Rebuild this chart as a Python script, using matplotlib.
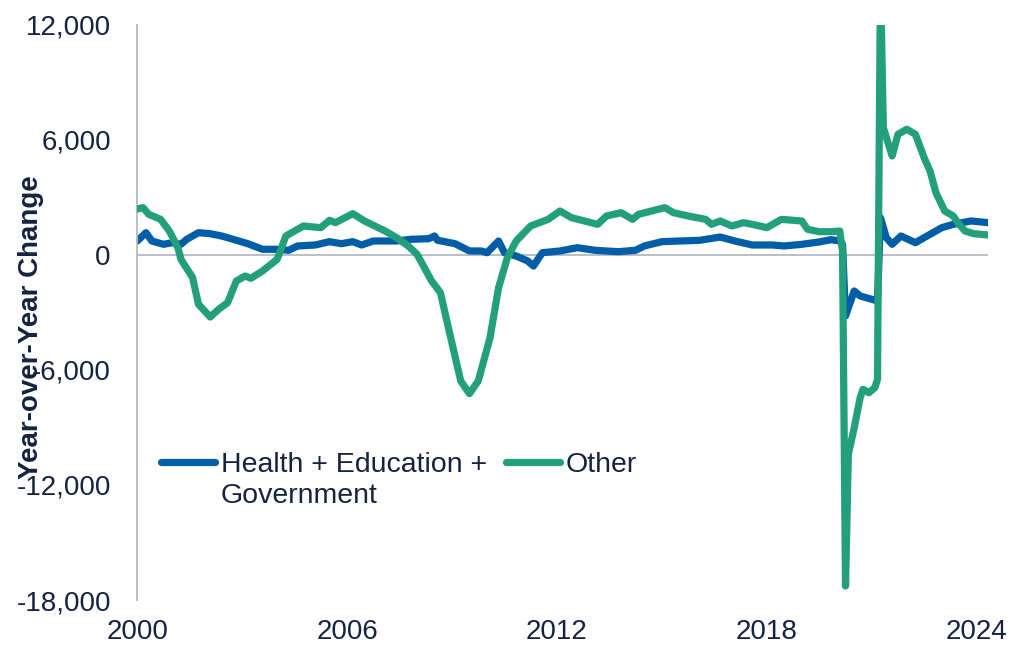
import pandas as pd
import matplotlib
matplotlib.use('Agg')
import matplotlib.pyplot as plt
import matplotlib.dates as mdates
from matplotlib.lines import Line2D
from matplotlib.ticker import FuncFormatter

plt.rcParams['font.family'] = ['Liberation Sans', 'DejaVu Sans']

# year-over-year change, thousands of jobs
health_dates = ['2000-01', '2000-04', '2000-06', '2000-10', '2001-01', '2001-04', '2001-06', '2001-10',
                '2002-02', '2002-06', '2002-11', '2003-03', '2003-08', '2004-01', '2004-05', '2004-08',
                '2005-02', '2005-07', '2005-11', '2006-03', '2006-06', '2006-10', '2007-06', '2007-11',
                '2008-05', '2008-07', '2008-08', '2009-02', '2009-07', '2009-11', '2010-01', '2010-05',
                '2010-07', '2010-11', '2011-03', '2011-05', '2011-08', '2012-02', '2012-08', '2013-02',
                '2013-10', '2014-04', '2014-07', '2015-01', '2015-07', '2016-02', '2016-09', '2017-02',
                '2017-08', '2018-03', '2018-07', '2019-01', '2019-07', '2019-11', '2020-02', '2020-03',
                '2020-04', '2020-07', '2020-09', '2021-01', '2021-03', '2021-04', '2021-06', '2021-08',
                '2021-11', '2022-04', '2022-08', '2023-01', '2023-05', '2023-11', '2024-05']
health_vals = [730, 1163, 730, 557, 642, 557, 819, 1163,
               1111, 991, 767, 590, 297, 297, 245, 470,
               522, 694, 590, 694, 522, 730, 730, 819,
               850, 991, 767, 590, 209, 209, 120, 730,
               120, -52, -313, -574, 120, 209, 381, 245,
               172, 245, 470, 694, 730, 767, 939, 730,
               522, 522, 470, 557, 680, 800, 730, 550,
               -3180, -1878, -2139, -2311, -2400, 1946, 904, 557,
               991, 642, 991, 1425, 1600, 1774, 1687]

other_dates = ['2000-01', '2000-03', '2000-05', '2000-09', '2000-12', '2001-03', '2001-04', '2001-08',
               '2001-10', '2002-02', '2002-05', '2002-08', '2002-11', '2003-02', '2003-04', '2003-08',
               '2004-01', '2004-04', '2004-08', '2004-10', '2005-04', '2005-07', '2005-09', '2006-03',
               '2006-07', '2007-02', '2007-06', '2007-10', '2008-01', '2008-06', '2008-09', '2008-12',
               '2009-04', '2009-07', '2009-10', '2010-02', '2010-05', '2010-08', '2010-11', '2011-04',
               '2011-10', '2012-02', '2012-06', '2013-03', '2013-06', '2013-11', '2014-03', '2014-05',
               '2015-02', '2015-05', '2015-10', '2016-04', '2016-06', '2016-09', '2017-01', '2017-05',
               '2017-08', '2018-01', '2018-06', '2019-01', '2019-03', '2019-07', '2019-11', '2020-02',
               '2020-03', '2020-04', '2020-05', '2020-07', '2020-09', '2020-10', '2020-12', '2021-02',
               '2021-03', '2021-04', '2021-05', '2021-08', '2021-10', '2022-01', '2022-04', '2022-07',
               '2022-09', '2022-11', '2023-02', '2023-05', '2023-07', '2023-09', '2023-12', '2024-05']
other_vals = [2400, 2470, 2120, 1860, 1250, 380, -225, -1180,
              -2570, -3235, -2830, -2490, -1356, -1095, -1217, -835,
              -226, 991, 1340, 1513, 1425, 1810, 1687, 2157,
              1774, 1252, 904, 470, 36, -1356, -1966, -3965,
              -6573, -7234, -6573, -4313, -1705, -140, 730, 1513,
              1860, 2295, 1946, 1600, 2035, 2207, 1860, 2122,
              2470, 2207, 2035, 1860, 1600, 1774, 1513, 1687,
              1600, 1425, 1860, 1774, 1340, 1216, 1216, 1252,
              200, -17270, -10400, -9010, -7445, -7007, -7184, -6923,
              -6500, 14500, 6640, 5165, 6297, 6558, 6297, 5076,
              4382, 3250, 2295, 2035, 1600, 1252, 1111, 1043]

year_ticks = ['2000', '2006', '2012', '2018', '2024']
y_ticks = [-18000, -12000, -6000, 0, 6000, 12000]

BLUE = '#005DA8'
GREEN = '#23A07B'
TEXT = '#14233F'
GRID = '#B4B9C0'
LW = 5.2


def main():
    fig = plt.figure(figsize=(10.1, 6.49), dpi=100)
    ax = fig.add_axes([0.1359, 0.0755, 0.8426, 0.886])

    hd = pd.to_datetime(health_dates)
    od = pd.to_datetime(other_dates)

    ax.axhline(0, color=GRID, lw=1.3, zorder=1)
    ax.plot(hd, health_vals, color=BLUE, lw=LW, solid_capstyle='round',
            solid_joinstyle='round', zorder=2)
    ax.plot(od, other_vals, color=GREEN, lw=LW, solid_capstyle='round',
            solid_joinstyle='round', zorder=3)

    ax.set_xlim(hd[0], hd[-1])
    ax.set_ylim(-18000, 12000)
    ax.set_xticks(pd.to_datetime(year_ticks))
    ax.xaxis.set_major_formatter(mdates.DateFormatter('%Y'))
    ax.set_yticks(y_ticks)
    ax.yaxis.set_major_formatter(FuncFormatter(lambda v, p: f'{int(v):,}'))

    ax.tick_params(axis='both', length=0, labelsize=20, labelcolor=TEXT)
    ax.tick_params(axis='x', pad=14)
    ax.tick_params(axis='y', pad=19)

    for s in ['top', 'right', 'bottom']:
        ax.spines[s].set_visible(False)
    ax.spines['left'].set_color(GRID)
    ax.spines['left'].set_linewidth(1.3)

    ax.set_ylabel('Year-over-Year Change', fontsize=20, fontweight='bold', color=TEXT)
    ax.yaxis.set_label_coords(-0.11, 0.475)

    # legend: second label line handled as its own row so the handle sits on line one
    blank = Line2D([], [], color='none')
    h1 = Line2D([], [], color=BLUE, lw=LW, solid_capstyle='round')
    h2 = Line2D([], [], color=GREEN, lw=LW, solid_capstyle='round')
    leg = ax.legend([h1, blank, h2, blank],
                    ['Health + Education +', 'Government', 'Other', ''],
                    ncol=2, loc='upper left', bbox_to_anchor=(0.028, 0.258),
                    frameon=False, fontsize=20.5, handlelength=1.9,
                    handletextpad=0.2, columnspacing=0.65, labelspacing=0.2,
                    borderpad=0, borderaxespad=0)
    for t in leg.get_texts():
        t.set_color(TEXT)

    fig.savefig('out.png', dpi=100)


if __name__ == '__main__':
    main()
